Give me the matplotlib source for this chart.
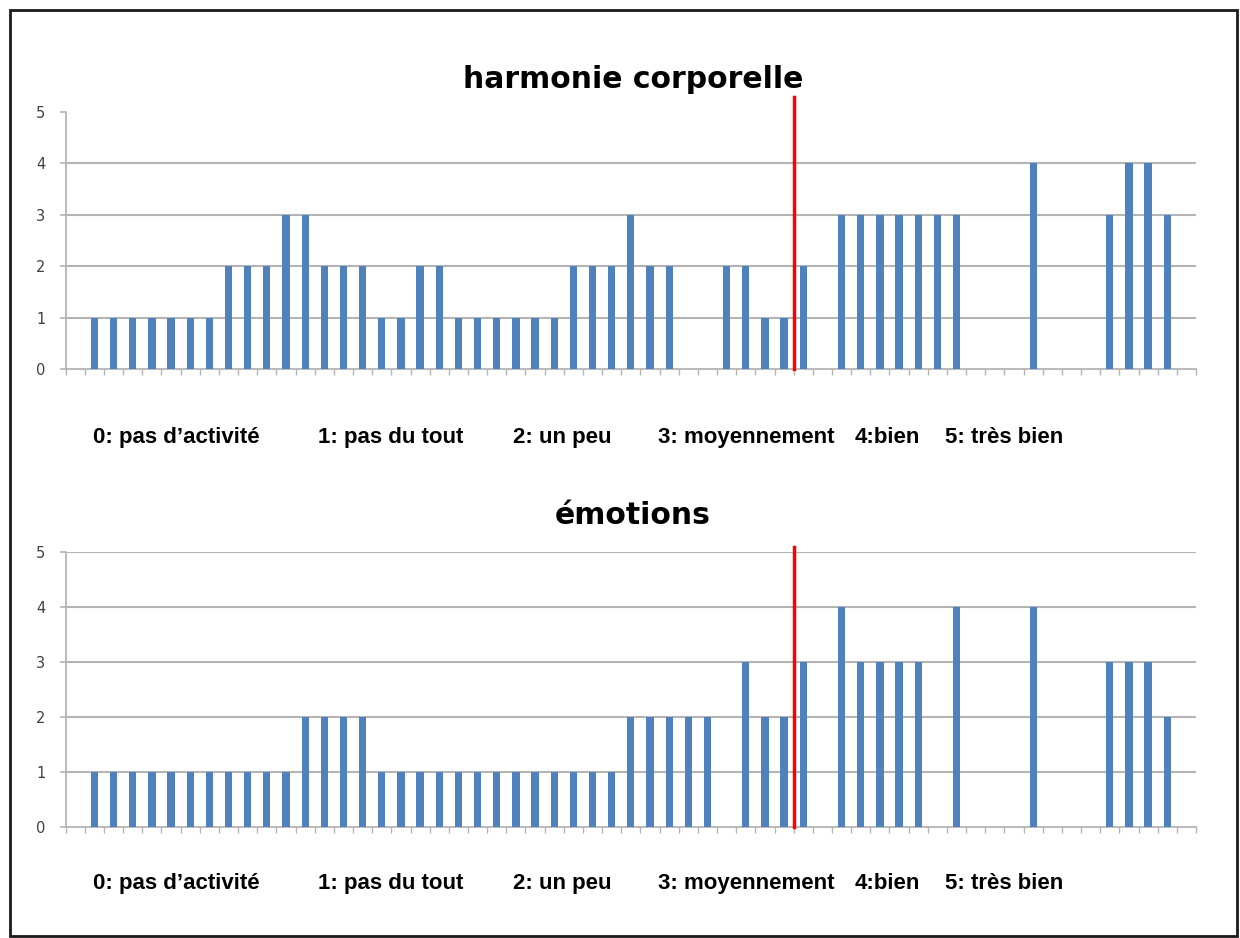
import numpy as np
import matplotlib
matplotlib.use("Agg")
import matplotlib.pyplot as plt
from matplotlib.patches import Rectangle

# ---- data ----
categories = list(range(59))
harmonie = [0, 1, 1, 1, 1, 1, 1, 1, 2, 2, 2, 3, 3, 2, 2, 2, 1, 1, 2, 2,
            1, 1, 1, 1, 1, 1, 2, 2, 2, 3, 2, 2, 0, 0, 2, 2, 1, 1, 2, 0,
            3, 3, 3, 3, 3, 3, 3, 0, 0, 0, 4, 0, 0, 0, 3, 4, 4, 3, 0]
emotions = [0, 1, 1, 1, 1, 1, 1, 1, 1, 1, 1, 1, 2, 2, 2, 2, 1, 1, 1, 1,
            1, 1, 1, 1, 1, 1, 1, 1, 1, 2, 2, 2, 2, 2, 0, 3, 2, 2, 3, 0,
            4, 3, 3, 3, 3, 0, 4, 0, 0, 0, 4, 0, 0, 0, 3, 3, 3, 2, 0]
yticks = [0, 1, 2, 3, 4, 5]
titles = ["harmonie corporelle", "émotions"]
legend_items = ["0: pas d\u2019activité", "1: pas du tout", "2: un peu",
                "3: moyennement", "4:bien", "5: très bien"]
split_position = 37.5

W, H = 1240, 938
fig = plt.figure(figsize=(W / 100, H / 100), dpi=100)

def ax_rect(left, right, top, bottom):
    return [left / W, 1 - bottom / H, (right - left) / W, (bottom - top) / H]

bar_color = "#4F81BD"
grid_color = "#B4B4B4"
legend_x = [93, 318, 513, 658, 855, 945]

def make_panel(rect, values, title, title_y, legend_y, red_top, top_grid):
    ax = fig.add_axes(rect)
    x = np.array(categories)
    ax.bar(x, values, width=0.38, color=bar_color, zorder=3)
    ax.set_xlim(-0.5, len(categories) - 0.5)
    ax.set_ylim(0, 5)
    ax.set_yticks(yticks)
    grid_vals = yticks[1:] if top_grid else yticks[1:-1]
    for g in grid_vals:
        ax.axhline(g, color=grid_color, lw=1.5, zorder=1)
    ax.set_xticks(np.arange(-0.5, len(categories), 1))
    ax.set_xticklabels([])
    for s in ["top", "right"]:
        ax.spines[s].set_visible(False)
    for s in ["left", "bottom"]:
        ax.spines[s].set_color(grid_color)
        ax.spines[s].set_linewidth(1.3)
    ax.tick_params(axis="y", length=4.5, width=1.2, color=grid_color,
                   labelsize=10.5, labelcolor="#404040", pad=10)
    ax.tick_params(axis="x", length=4, width=1, color=grid_color)
    ax.plot([split_position, split_position], [0, red_top], color="#FF0000",
            lw=2.5, clip_on=False, zorder=4)
    fig.text(633 / W, 1 - title_y / H, title, ha="center", va="center",
             fontsize=21.5, fontweight="bold", family="DejaVu Sans")
    for lx, item in zip(legend_x, legend_items):
        fig.text(lx / W, 1 - legend_y / H, item, ha="left", va="center",
                 fontsize=16, fontweight="bold", family="Liberation Sans")
    return ax

make_panel(ax_rect(65.7, 1196, 111.8, 369.3), harmonie, titles[0], 79, 437, 5.28, False)
make_panel(ax_rect(65.7, 1196, 552.3, 827.3), emotions, titles[1], 516, 883, 5.1, True)

fig.patches.append(Rectangle((10 / W, 1 - 936 / H), 1227 / W, 926 / H,
                             transform=fig.transFigure, fill=False,
                             edgecolor="#1a1a1a", lw=2))

fig.savefig("out.png", dpi=100)
